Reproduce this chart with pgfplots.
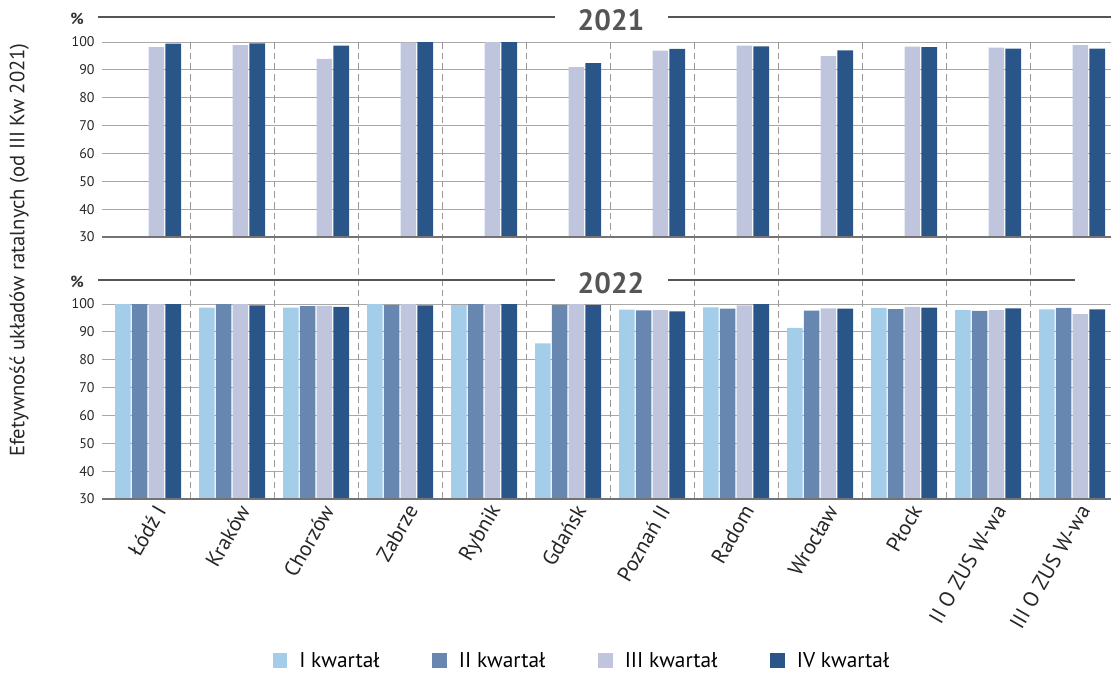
\documentclass[border=0pt]{standalone}
\usepackage{pgfplots}
\pgfplotsset{compat=1.18}
\usepackage{pgfplotstable}
\usepackage{fontspec}
\setmainfont{PT Sans}
\definecolor{qI}{HTML}{A3CDE9}
\definecolor{qII}{HTML}{6786B0}
\definecolor{qIII}{HTML}{BFC5DD}
\definecolor{qIV}{HTML}{2A5589}
\definecolor{titlegray}{HTML}{555555}
\definecolor{gridgray}{HTML}{A8A8A8}
\definecolor{dashgray}{HTML}{989898}

\pgfplotstableread{
x III IV
0 98.2 99.4
1 98.9 99.5
2 93.9 98.7
3 99.8 100
4 100 100
5 91.0 92.4
6 96.9 97.5
7 98.7 98.4
8 94.9 97.0
9 98.3 98.2
10 98.0 97.6
11 98.9 97.6
}\tabA

\pgfplotstableread{
x I II III IV
0 100 100 100 100
1 98.7 100 100 99.5
2 98.7 99.2 99.3 99.0
3 100 99.6 100 99.5
4 99.6 100 100 100
5 85.9 99.6 100 99.6
6 98.0 97.7 97.8 97.4
7 98.8 98.3 99.5 100
8 91.4 97.6 98.4 98.3
9 98.6 98.2 99.0 98.7
10 97.8 97.5 97.8 98.4
11 98.1 98.6 96.4 98.1
}\tabB

\pgfplotsset{panel/.style={
  scale only axis, width=756.75pt, height=146.25pt,
  xmin=-0.548, xmax=11.464, ymin=30, ymax=100,
  ytick={30,40,...,100},
  xtick={0,...,11},
  ymajorgrids, major grid style={gridgray, line width=0.7pt},
  axis line style={draw=none},
  major tick length=0pt,
  ybar, bar width=0.185,
  clip=false,
  yticklabel style={font=\fontsize{10.5}{12}\selectfont, text=black!85, xshift=-2pt},
  /pgf/number format/assume math mode=true,
}}

\begin{document}
\begin{tikzpicture}
\useasboundingbox (-76.5pt,-328.5pt) rectangle (756.75pt,177.75pt);

% ---------- 2021 ----------
\begin{axis}[panel, at={(0pt,0pt)}, anchor=south west, xticklabels={}]
\pgfplotsinvokeforeach{0.5,1.5,2.5,3.5,4.5,6.5,7.5,8.5,9.5,10.5}{
  \draw[dashgray, line width=0.6pt, dash pattern=on 5pt off 3pt] (axis cs:#1,100) -- (axis cs:#1,26.4);
}
\draw[dashgray, line width=0.6pt, dash pattern=on 5pt off 3pt] (axis cs:5.5,100) -- (axis cs:5.5,30);
\addplot[fill=qIII, draw=none, bar shift=0.1] table[x=x, y=III] {\tabA};
\addplot[fill=qIV, draw=none, bar shift=0.3] table[x=x, y=IV] {\tabA};
\draw[black!55, line width=0.9pt] (axis cs:-0.548,30) -- (axis cs:11.464,30);
\end{axis}

% ---------- 2022 ----------
\begin{axis}[panel, at={(0pt,-196.5pt)}, anchor=south west,
  xticklabels={Łódź I, Kraków, Chorzów, Zabrze, Rybnik, Gdańsk, Poznań II, Radom, Wrocław, Płock, II O ZUS W-wa, III O ZUS W-wa},
  xticklabel style={font=\fontsize{16}{18}\selectfont, text=black!85, rotate=60, anchor=east, xshift=3pt, yshift=-11pt},
  legend style={at={(0.476,-0.831)}, anchor=center, draw=none, fill=none,
    legend columns=4, font=\fontsize{16}{18}\selectfont,
    /tikz/every odd column/.append style={column sep=7pt},
    /tikz/every even column/.append style={column sep=37.5pt},
    legend cell align=left},
  legend image code/.code={\fill[#1] (0pt,-5pt) rectangle (11pt,6pt);},
]
\pgfplotsinvokeforeach{0.5,1.5,2.5,3.5,4.5,6.5,7.5,8.5,9.5,10.5}{
  \draw[dashgray, line width=0.6pt, dash pattern=on 5pt off 3pt] (axis cs:#1,120.5) -- (axis cs:#1,30);
}
\draw[dashgray, line width=0.6pt, dash pattern=on 5pt off 3pt] (axis cs:5.5,100) -- (axis cs:5.5,30);
\addplot[fill=qI, draw=none, bar shift=-0.3] table[x=x, y=I] {\tabB};
\addlegendentry{I kwartał}
\addplot[fill=qII, draw=none, bar shift=-0.1] table[x=x, y=II] {\tabB};
\addlegendentry{II kwartał}
\addplot[fill=qIII, draw=none, bar shift=0.1] table[x=x, y=III] {\tabB};
\addlegendentry{III kwartał}
\addplot[fill=qIV, draw=none, bar shift=0.3] table[x=x, y=IV] {\tabB};
\addlegendentry{IV kwartał}
\draw[black!55, line width=0.9pt] (axis cs:-0.548,30) -- (axis cs:11.464,30);
\end{axis}

% ---------- titles ----------
\draw[titlegray, line width=1.6pt] (-3pt,165pt) -- (339.75pt,165pt);
\draw[titlegray, line width=1.6pt] (424.5pt,165pt) -- (756.75pt,165pt);
\node[text=titlegray, font=\bfseries\fontsize{22}{24}\selectfont] at (381.75pt,162.5pt) {2021};
\draw[titlegray, line width=1.6pt] (-3pt,-32.25pt) -- (339.75pt,-32.25pt);
\draw[titlegray, line width=1.6pt] (424.5pt,-32.25pt) -- (729.75pt,-32.25pt);
\node[text=titlegray, font=\bfseries\fontsize{22}{24}\selectfont] at (381.75pt,-34.5pt) {2022};

\node[font=\bfseries\fontsize{12}{14}\selectfont, text=black!80] at (-18.75pt,163.5pt) {\%};
\node[font=\bfseries\fontsize{12}{14}\selectfont, text=black!80] at (-18.75pt,-33.75pt) {\%};

\node[rotate=90, font=\fontsize{15.5}{17}\selectfont, text=black!85] at (-62pt,-9.75pt) {Efetywność układów ratalnych (od III Kw 2021)};
\end{tikzpicture}
\end{document}
